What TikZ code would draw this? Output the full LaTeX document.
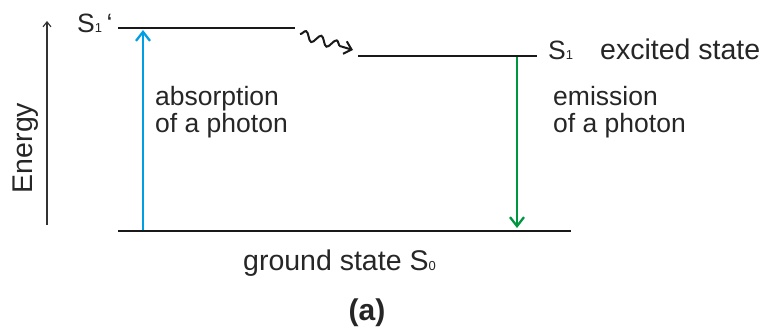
\documentclass[tikz,border=0pt]{standalone}
\usepackage{fontspec}
\setmainfont{Liberation Sans}
\usetikzlibrary{arrows.meta,decorations.pathmorphing}
\definecolor{absblue}{RGB}{0,158,227}
\definecolor{emgreen}{RGB}{0,150,64}
\newcommand\lvlsub[1]{{\fontsize{13}{13}\selectfont #1}}
\begin{document}
\begin{tikzpicture}[x=1pt,y=-1pt,
  level/.style={line width=2.8pt, black!90},
  txt/.style={inner sep=0pt, anchor=base west, align=left, font=\fontsize{26.5}{27}\selectfont, text=black!85},
  bigtxt/.style={txt, font=\fontsize{28.5}{29}\selectfont},
  trans/.style={line width=2.3pt, -{Straight Barb[length=9pt,width=14pt,line width=2.3pt]}},
]
\useasboundingbox (0,0) rectangle (764,329);
% level end points
\coordinate (s1pL) at (118,28);
\coordinate (s1pR) at (295,28);
\coordinate (s1L) at (358,56);
\coordinate (s1R) at (537,56);
\coordinate (s0L) at (118,231);
\coordinate (s0R) at (571,231);
\draw[level] (s1pL) -- (s1pR);
\draw[level] (s1L) -- (s1R);
\draw[level] (s0L) -- (s0R);
% energy axis
\coordinate (eBot) at (47,225);
\coordinate (eTop) at (47,21);
\draw[line width=1.1pt, black!80, -{Straight Barb[length=5pt,width=8pt,line width=1.1pt]}] (eBot) -- (eTop);
\node[rotate=90, inner sep=0pt, font=\fontsize{28.5}{29}\selectfont, text=black!85] (energy) at (26,148) {Energy};
% transitions
\coordinate (absBot) at (143,230);
\coordinate (absTop) at (143,30);
\draw[trans, absblue] (absBot) -- (absTop);
\coordinate (emTop) at (517,57);
\coordinate (emBot) at (517,228);
\draw[trans, emgreen] (emTop) -- (emBot);
% relaxation
\coordinate (w1) at (300,34);
\coordinate (w2) at (353,50);
\draw[line width=2pt, black!90, decorate, decoration={snake, amplitude=4.5pt, segment length=16pt, post length=9pt}, -{Straight Barb[length=7pt,width=13pt,line width=2pt]}] (w1) -- (w2);
% labels
\node[txt] (s1plab) at (77,33) {S\lvlsub{1}\,‘};
\node[txt] (s1lab) at (548,60) {S\lvlsub{1}};
\node[bigtxt] (exlab) at (600,60) {excited state};
\node[txt] (abslab) at (155,132) {absorption\\of a photon};
\node[txt] (emlab) at (553,132) {emission\\of a photon};
\node[bigtxt] (s0lab) at (243,270) {ground state S\lvlsub{0}};
\node[inner sep=0pt, font=\bfseries\fontsize{30}{30}\selectfont, text=black!85] (cap) at (367,313) {(a)};
\end{tikzpicture}
\end{document}
